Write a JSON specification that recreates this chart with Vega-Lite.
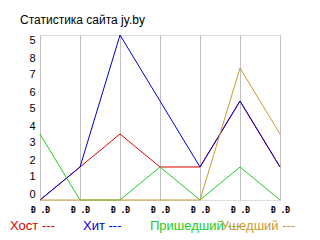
{
  "$schema": "https://vega.github.io/schema/vega-lite/v6.json",
  "autosize": "none",
  "width": 240,
  "height": 165,
  "padding": {"left": 40, "top": 35, "right": 40, "bottom": 40},
  "background": "white",
  "title": {
    "text": "Статистика сайта jy.by",
    "anchor": "start",
    "frame": "group",
    "dx": -20,
    "offset": 6,
    "font": "Liberation Sans",
    "fontSize": 12,
    "fontWeight": "normal",
    "color": "black"
  },
  "config": {
    "legend": {
      "title": null,
      "orient": "none",
      "direction": "horizontal",
      "columns": 4,
      "gridAlign": "none",
      "columnPadding": 15,
      "padding": 0,
      "symbolSize": 0,
      "symbolStrokeWidth": 0,
      "symbolOpacity": 0,
      "labelOffset": 0,
      "labelFont": "Liberation Sans",
      "labelFontSize": 13,
      "labelBaseline": "top"
    }
  },
  "data": {
    "values": [
      {"n": 0, "series": "Хост", "v": 0},
      {"n": 1, "series": "Хост", "v": 1},
      {"n": 2, "series": "Хост", "v": 2},
      {"n": 3, "series": "Хост", "v": 1},
      {"n": 4, "series": "Хост", "v": 1},
      {"n": 5, "series": "Хост", "v": 3},
      {"n": 6, "series": "Хост", "v": 1},
      {"n": 0, "series": "Хит", "v": 0},
      {"n": 1, "series": "Хит", "v": 1},
      {"n": 2, "series": "Хит", "v": 5},
      {"n": 3, "series": "Хит", "v": 3},
      {"n": 4, "series": "Хит", "v": 1},
      {"n": 5, "series": "Хит", "v": 3},
      {"n": 6, "series": "Хит", "v": 1},
      {"n": 0, "series": "Пришедший", "v": 2},
      {"n": 1, "series": "Пришедший", "v": 0},
      {"n": 2, "series": "Пришедший", "v": 0},
      {"n": 3, "series": "Пришедший", "v": 1},
      {"n": 4, "series": "Пришедший", "v": 0},
      {"n": 5, "series": "Пришедший", "v": 1},
      {"n": 6, "series": "Пришедший", "v": 0},
      {"n": 0, "series": "Ушедший", "v": 0},
      {"n": 1, "series": "Ушедший", "v": 0},
      {"n": 2, "series": "Ушедший", "v": 0},
      {"n": 3, "series": "Ушедший", "v": 0},
      {"n": 4, "series": "Ушедший", "v": 0},
      {"n": 5, "series": "Ушедший", "v": 4},
      {"n": 6, "series": "Ушедший", "v": 2}
    ]
  },
  "encoding": {
    "x": {
      "field": "n",
      "type": "quantitative",
      "scale": {"domain": [0, 6], "nice": false, "zero": false},
      "axis": {
        "title": null,
        "values": [0, 1, 2, 3, 4, 5, 6],
        "labelExpr": "'Ð .Ð'",
        "grid": true,
        "gridColor": "#c0c0c0",
        "gridOpacity": 1,
        "domain": false,
        "ticks": false,
        "labelFont": "DejaVu Sans Mono",
        "labelFontWeight": "bold",
        "labelFontSize": 8,
        "labelColor": "black",
        "labelPadding": 6,
        "labelDx": -4,
        "labelFlush": false,
        "labelOverlap": false
      }
    },
    "y": {
      "field": "v",
      "type": "quantitative",
      "scale": {"domain": [0, 5], "nice": false},
      "axis": {
        "title": null,
        "values": [0.1818, 0.697, 1.2121, 1.7273, 2.2424, 2.7576, 3.2727, 3.7879, 4.303, 4.8182],
        "labelExpr": "round((datum.value*33-6)/17) == 9 ? '5' : '' + round((datum.value*33-6)/17)",
        "grid": false,
        "domain": false,
        "ticks": false,
        "labelFont": "Liberation Sans",
        "labelFontSize": 11,
        "labelColor": "black",
        "labelPadding": 5,
        "labelOverlap": false
      }
    }
  },
  "layer": [
    {
      "transform": [{"filter": "datum.series != 'Ушедший'"}],
      "mark": {"type": "line", "strokeWidth": 1, "clip": false},
      "encoding": {
        "color": {
          "field": "series",
          "type": "nominal",
          "sort": null,
          "scale": {
            "domain": ["Хост", "Хит", "Пришедший", "Ушедший"],
            "range": ["#dd0000", "#0000cc", "#22cc22", "#cc9933"]
          },
          "legend": {
            "values": ["Хост", "Хит", "Пришедший"],
            "legendX": -43,
            "legendY": 178,
            "labelExpr": "datum.label + ' ---'",
            "encode": {
              "labels": {
                "update": {
                  "fill": {"scale": "color", "field": "value"}
                }
              }
            }
          }
        }
      }
    },
    {
      "transform": [{"filter": "datum.series == 'Ушедший'"}],
      "mark": {"type": "line", "strokeWidth": 1, "clip": false},
      "encoding": {
        "color": {
          "field": "series",
          "type": "nominal",
          "sort": null,
          "scale": {
            "domain": ["Хост", "Хит", "Пришедший", "Ушедший"],
            "range": ["#dd0000", "#0000cc", "#22cc22", "#cc9933"]
          },
          "legend": {
            "values": ["Ушедший"],
            "legendX": 168,
            "legendY": 178,
            "labelExpr": "datum.label + ' ---'",
            "labelColor": "#cc9933"
          }
        }
      }
    }
  ],
  "resolve": {"legend": {"color": "independent"}}
}
